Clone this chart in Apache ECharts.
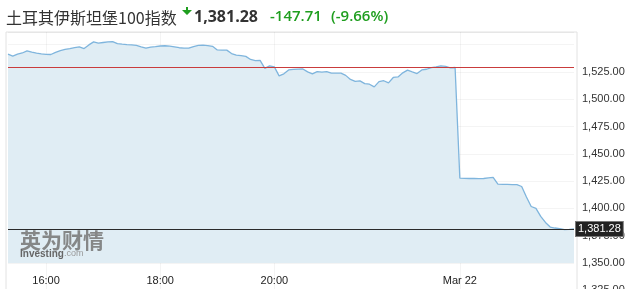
<!DOCTYPE html>
<html>
<head>
<meta charset="utf-8">
<script src="https://cdn.jsdelivr.net/npm/echarts@6/dist/echarts.min.js"></script>
<style>
html,body{margin:0;padding:0;background:#fff;}
#chart{width:625px;height:289px;}
</style>
</head>
<body>
<div id="chart"></div>
<script>
// ---- data ----
var title = '土耳其伊斯坦堡100指数';
var lastValue = 1381.28;
var prevClose = 1528.99;
var change = -147.71;
var changePct = -9.66;

var mar19Times = ['15:20','15:25','15:30','15:35','15:40','15:45','15:50','15:55',
 '16:00','16:05','16:10','16:15','16:20','16:25','16:30','16:35','16:40','16:45','16:50','16:55',
 '17:00','17:05','17:10','17:15','17:20','17:25','17:30','17:35','17:40','17:45','17:50','17:55',
 '18:00','18:05','18:10','18:15','18:20','18:25','18:30','18:35','18:40','18:45','18:50','18:55',
 '19:00','19:05','19:10','19:15','19:20','19:25','19:30','19:35','19:40','19:45','19:50','19:55',
 '20:00','20:05','20:10','20:15','20:20','20:25','20:30','20:35','20:40','20:45','20:50','20:55',
 '21:00','21:05','21:10','21:15','21:20','21:25','21:30','21:35','21:40','21:45','21:50','21:55',
 '22:00','22:05','22:10','22:15','22:20','22:25','22:30','22:35','22:40','22:45','22:50','22:55',
 '23:00','23:05','23:10'];
var mar22Times = ['15:00','15:05','15:10','15:15','15:20','15:25','15:30','15:35','15:40','15:45','15:50','15:55',
 '16:00','16:05','16:10','16:15','16:20','16:25','16:30','16:35','16:40','16:45','16:50','16:55',
 '17:00'];

var mar19Values = [1541.2,1539.4,1541.2,1542.3,1544.2,1543.0,1542.1,1541.5,1541.1,1540.9,
 1542.9,1544.5,1545.5,1546.3,1547.2,1547.8,1546.3,1549.7,1552.5,1551.3,
 1551.9,1552.5,1552.7,1550.9,1550.4,1550.0,1549.8,1549.3,1547.9,1546.7,
 1547.7,1548.1,1548.7,1548.9,1548.5,1547.9,1547.1,1546.8,1546.8,1548.2,
 1549.2,1549.4,1549.1,1548.4,1545.1,1545.0,1544.9,1541.8,1540.4,1539.9,
 1539.2,1536.4,1535.3,1535.5,1528.2,1530.5,1529.6,1521.3,1523.2,1526.8,
 1527.3,1527.6,1527.7,1525.0,1523.2,1525.3,1524.8,1525.3,1523.8,1523.8,
 1523.8,1521.8,1518.1,1516.3,1516.8,1514.3,1513.7,1511.3,1516.1,1516.9,
 1514.9,1519.9,1520.4,1524.1,1526.6,1525.0,1523.5,1526.8,1527.4,1528.9,
 1529.6,1530.5,1530.0,1528.7,1529.0];
var mar22Values = [1427.7,1427.5,1427.4,1427.4,1427.3,1427.4,1427.9,1428.4,1422.2,1422.0,
 1422.0,1421.9,1421.8,1420.1,1410.5,1401.8,1400.0,1392.7,1387.2,1383.0,
 1382.1,1381.6,1380.7,1380.8,1381.28];

var xTickCategories = ['03-19 16:00','03-19 18:00','03-19 20:00','03-22 15:00'];
var xTickLabels = ['16:00','18:00','20:00','Mar 22'];

// ---- build ----
var categories = mar19Times.map(function(t){return '03-19 ' + t;})
  .concat(mar22Times.map(function(t){return '03-22 ' + t;}));
var values = mar19Values.concat(mar22Values);

function fmt(v){
  var s = v.toFixed(2).split('.');
  s[0] = s[0].replace(/\B(?=(\d{3})+(?!\d))/g, ',');
  return s.join('.');
}
function isTick(idx, val){ return xTickCategories.indexOf(val) >= 0; }

var chart = echarts.init(document.getElementById('chart'), null, {renderer:'canvas'});
var green = '#1f9e1f';
var option = {
  animation: false,
  grid: [
    {left: 8, right: 51, top: 32, bottom: -1.4, show: false, containLabel: false, outerBoundsMode: 'none'},
    {left: 6, right: 48, top: 32, bottom: -2, show: true, borderColor: '#e2e2e2', borderWidth: 1, backgroundColor: 'transparent', containLabel: false, outerBoundsMode: 'none'}
  ],
  xAxis: [{
    type: 'category', data: categories, boundaryGap: false, gridIndex: 0,
    axisLine: {show: false}, axisTick: {show: false},
    axisLabel: {
      inside: true, interval: isTick, color: '#222', fontSize: 11, margin: 4,
      verticalAlign: 'bottom',
      fontFamily: 'Liberation Sans, Arial, sans-serif',
      formatter: function(v){ var i = xTickCategories.indexOf(v); return i >= 0 ? xTickLabels[i] : ''; }
    },
    splitLine: {show: true, interval: isTick, lineStyle: {color: 'rgba(0,0,0,0.045)'}}
  }, {
    type: 'value', gridIndex: 1, show: false
  }],
  yAxis: [{
    type: 'value', position: 'right', gridIndex: 0,
    min: 1325, max: 1561.5, interval: 25,
    axisLine: {show: false}, axisTick: {show: false},
    axisLabel: {
      color: '#333', fontSize: 11, margin: 8, fontFamily: 'Liberation Sans, Arial, sans-serif',
      formatter: function(v){ return v > 1540 ? '' : fmt(v); }
    },
    splitLine: {lineStyle: {color: 'rgba(0,0,0,0.045)'}}
  }, {
    type: 'value', gridIndex: 1, show: false
  }],
  series: [{
    type: 'line', xAxisIndex: 0, yAxisIndex: 0, data: values,
    showSymbol: false, symbol: 'none',
    lineStyle: {color: '#7fb5dd', width: 1.3},
    areaStyle: {color: '#e0edf4', opacity: 1, origin: 1350},
    z: 2,
    markLine: {
      silent: true, symbol: 'none', animation: false,
      data: [
        {yAxis: prevClose, lineStyle: {color: '#c93c3c', width: 1, type: 'solid'}, label: {show: false}},
        {yAxis: lastValue, lineStyle: {color: '#2a2a2a', width: 1, type: 'solid'},
         label: {show: true, position: 'end', distance: 2, formatter: fmt(lastValue),
                 color: '#fff', backgroundColor: '#222', borderColor: '#777', borderWidth: 1,
                 padding: [2, 2, 1, 2], fontSize: 11, fontFamily: 'Liberation Sans, Arial, sans-serif'}}
      ]
    }
  }],
  graphic: [
    {type: 'text', left: 6, top: 10, style: {text: title, font: '16px "Noto Sans CJK SC", sans-serif', fill: '#333'}},
    {type: 'polygon', shape: {points: [[182,10],[186,10],[186,7],[188,7],[188,10],[192,10],[187,15]]}, style: {fill: green}},
    {type: 'text', left: 194, top: 9, style: {text: fmt(lastValue), font: 'bold 16px "Open Sans", sans-serif', fill: '#333'}},
    {type: 'text', left: 270, top: 9, style: {text: change.toFixed(2), font: '600 15px "Open Sans", sans-serif', fill: green}},
    {type: 'text', left: 331, top: 9, style: {text: '(' + changePct.toFixed(2) + '%)', font: '600 15px "Open Sans", sans-serif', fill: green}},
    {type: 'text', left: 20, top: 230, z: 10, style: {text: '英为财情', font: 'bold 21px "Noto Sans CJK SC", sans-serif', fill: '#7b7b7b', opacity: 0.9}},
    {type: 'text', left: 20, top: 249, z: 10, style: {text: '{a|Investing}{b|.com}', rich: {a: {font: 'bold 10px "Liberation Sans", Arial, sans-serif', fill: '#666'}, b: {font: '9px "Liberation Sans", Arial, sans-serif', fill: '#999'}}}}
  ]
};
chart.setOption(option);
</script>
</body>
</html>
